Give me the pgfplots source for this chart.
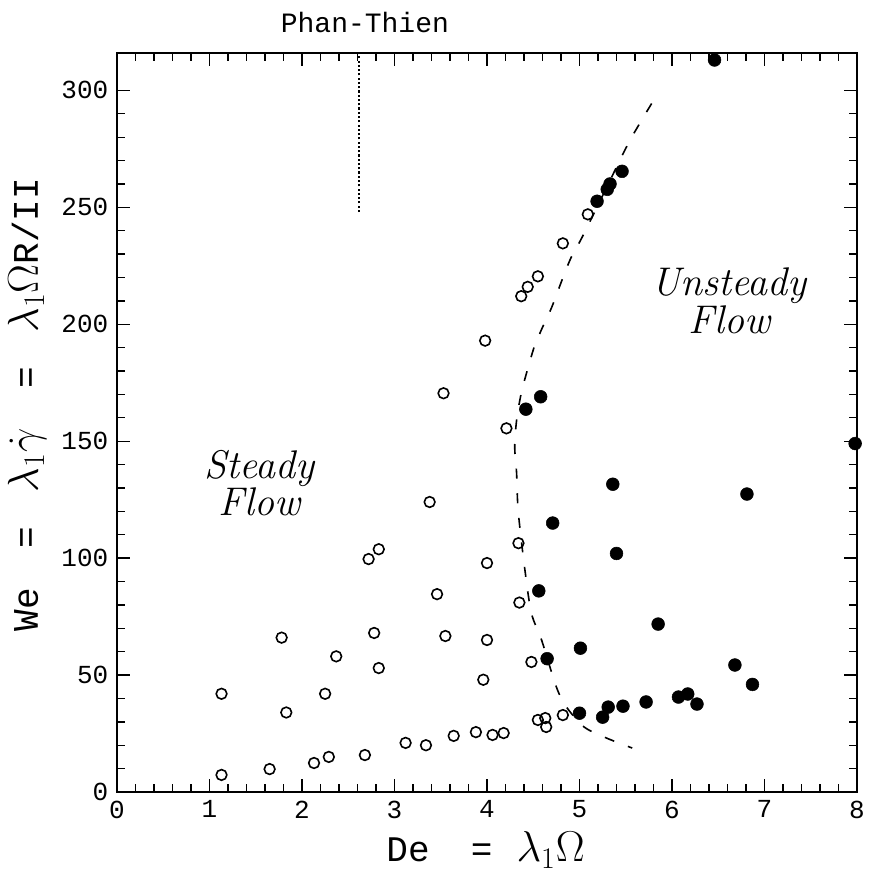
\documentclass[border=0pt]{standalone}
\usepackage{graphicx}
\usepackage{pgfplots}
\pgfplotsset{compat=1.18}
\usepackage{fontspec}
\setmonofont{Liberation Mono}
\newcommand{\bgm}[1]{\scalebox{1.3}{$#1$}}
\begin{document}
\begin{tikzpicture}
\begin{axis}[
  scale only axis,
  width=555pt, height=554.25pt,
  xmin=0, xmax=8, ymin=0, ymax=316,
  xtick={0,1,...,8}, minor x tick num=4,
  ytick={0,50,...,300}, minor y tick num=4,
  tick align=inside,
  major tick length=10pt, minor tick length=6pt,
  every tick/.style={black, line width=1pt},
  axis line style={line width=1.3pt},
  /pgf/number format/assume math mode=true,
  ticklabel style={font=\ttfamily\fontsize{19.5}{20}\selectfont},
  xticklabel style={yshift=-3pt},
  yticklabel style={xshift=-3pt},
  xlabel={De\hspace{31pt}=\hspace{18pt}\bgm{\lambda_1\Omega}},
  ylabel={We\hspace{30pt}=\hspace{26pt}\bgm{\lambda_1\dot{\gamma}}\hspace{30pt}=\hspace{26pt}\bgm{\lambda_1\Omega}R/II},
  label style={font=\ttfamily\fontsize{27}{28}\selectfont},
  xlabel style={at={(axis description cs:0.498,0)}, anchor=center, yshift=-43.5pt},
  ylabel style={at={(axis description cs:0,0.524)}, anchor=center, yshift=67.5pt},
  clip=false,
]
% dashed boundary
\addplot[black, line width=1.2pt, dash pattern=on 7.5pt off 11pt, smooth, tension=0.5] coordinates {
(5.78,294.4) (5.62,283.8) (5.49,274.4) (5.05,238.9) (4.91,228.6) (4.81,218.8)
(4.70,207.3) (4.60,198.7) (4.51,190.2) (4.43,179.5) (4.37,170.5) (4.32,159)
(4.30,147.4) (4.32,136.3) (4.33,124.8) (4.35,115) (4.41,94.9) (4.48,76.5)
(4.59,65) (4.75,44.9) (4.86,36.3) (5.05,27.8) (5.29,23.1) (5.57,18.8)
};
% dotted vertical line
\addplot[black, line width=1.4pt, dash pattern=on 1.6pt off 1.6pt] coordinates {(2.62,248) (2.62,316)};
% steady (open)
\addplot[only marks, mark=o, mark size=4pt, mark options={line width=1.2pt, black}] coordinates {
(1.13,7.3) (1.13,42) (1.65,9.8) (1.78,66) (1.83,34) (2.13,12.4) (2.25,42)
(2.29,15) (2.37,58) (2.68,15.8) (2.78,68) (2.83,53) (3.12,21) (3.34,20)
(3.55,66.7) (3.64,24) (3.88,25.6) (3.96,48) (4.0,65) (4.06,24.4) (4.18,25.2)
(4.48,55.6) (4.35,81) (4.55,30.8) (4.63,31.6) (4.64,27.8) (4.82,32.9)
(3.98,193) (3.53,170.5) (4.21,155.5) (3.38,124) (2.83,103.8) (2.72,99.6)
(4.0,97.9) (4.34,106.4) (3.46,84.6) (4.37,212) (4.44,216) (4.55,220.5)
(4.82,234.6) (5.09,247)
};
% unsteady (filled)
\addplot[only marks, mark=*, mark size=4.8pt, mark options={black, fill=black}] coordinates {
(4.65,57) (5.01,61.5) (5.0,33.7) (5.25,32) (5.31,36.3) (5.47,36.7)
(5.85,71.8) (5.72,38.5) (6.07,40.6) (6.17,41.9) (6.27,37.6) (6.68,54.3)
(6.87,46) (7.98,149) (6.46,313) (4.58,169) (4.42,163.7) (5.36,131.6)
(4.71,115) (5.40,102) (4.56,86) (5.19,252.6) (5.30,257.7) (5.33,260) (5.46,265.4)
(6.81,127.4)
};
\node[font=\ttfamily\fontsize{21}{22}\selectfont, anchor=center] at (axis cs:2.68,316) [yshift=23pt] {Phan-Thien};
\node[font=\itshape\fontsize{30}{24}\selectfont, align=center] at (axis cs:1.54,132) {Steady\\Flow};
\node[font=\itshape\fontsize{30}{24}\selectfont, align=center] at (axis cs:6.62,210) {Unsteady\\Flow};
\end{axis}
\path[use as bounding box] ([shift={(-87.75pt,-60.75pt)}]current axis.south west) rectangle ([shift={(5.25pt,39.75pt)}]current axis.north east);
\end{tikzpicture}
\end{document}
